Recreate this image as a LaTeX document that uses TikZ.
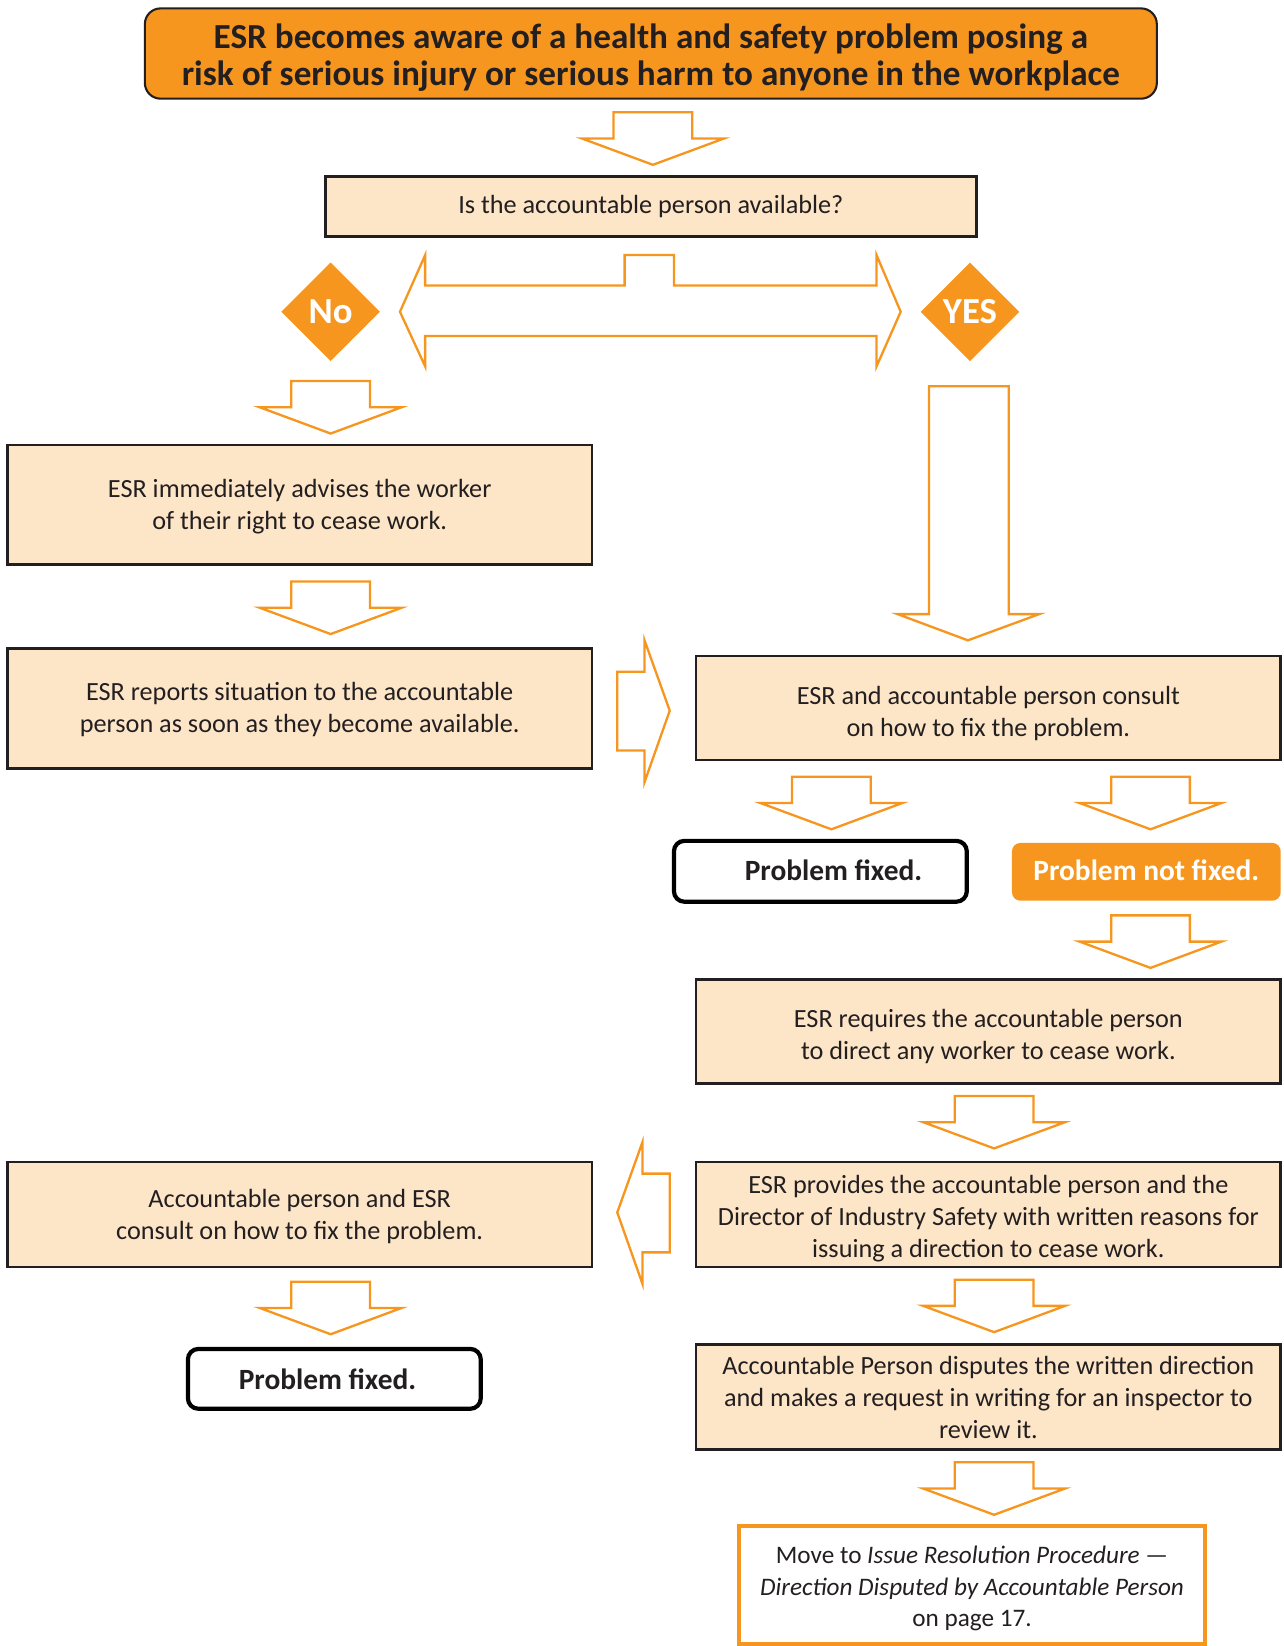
\documentclass[tikz,border=0pt]{standalone}
\usepackage{fontspec}
\setmainfont{Carlito}
\usetikzlibrary{shapes.geometric}
\definecolor{esrorange}{HTML}{F7961E}
\definecolor{peach}{HTML}{FDE5C8}
\definecolor{edgegray}{HTML}{231F20}
\tikzset{
  bodyfont/.style={font=\fontsize{25}{30.5}\selectfont},
  pbox/.style={draw=edgegray, line width=2.5pt, fill=peach, inner sep=0pt},
  ptext/.style={align=center, inner sep=0pt, bodyfont, text=edgegray},
  fixedbox/.style={draw=black, line width=4pt, rounded corners=10pt, fill=white, inner sep=0pt},
  fixedtext/.style={font=\fontsize{28}{32}\selectfont\bfseries, text=edgegray},
  decision/.style={diamond, fill=esrorange, inner sep=0pt, minimum width=94pt, minimum height=94pt, text=white, font=\fontsize{35}{38}\selectfont\bfseries},
  blockarrow/.style={draw=esrorange, line width=2.2pt, fill=white, line join=miter},
  darrow/.pic={\draw[blockarrow] (-37.5,-50) -- (37.5,-50) -- (37.5,-25) -- (67.5,-25) -- (0,0) -- (-67.5,-25) -- (-37.5,-25) -- cycle;}
}
\begin{document}
\begin{tikzpicture}[x=1pt,y=-1pt]
\useasboundingbox (0,0) rectangle (1223,1568);
% title
\node[draw=edgegray, line width=2pt, rounded corners=15pt, fill=esrorange, minimum width=964pt, minimum height=86pt, inner sep=0pt] (title) at (620,51) {};
\node[align=center, inner sep=0pt, text=edgegray, font=\fontsize{33.5}{35}\selectfont\bfseries] (titlet) at ([yshift=-4pt]title.center)
  {ESR becomes aware of a health and safety problem posing a\\risk of serious injury or serious harm to anyone in the workplace};
\pic at (622,157) {darrow};
\node[pbox, minimum width=620pt, minimum height=57pt] (q) at (620,196.5) {};
\node[ptext] (qt) at (q.center) {Is the accountable person available?};
% double arrow
\draw[blockarrow] (381,297) -- (405,243) -- (405,272) -- (595,272) -- (595,243) -- (642,243) -- (642,272) -- (835,272) -- (835,243) -- (858,297) -- (835,349) -- (835,320) -- (405,320) -- (405,349) -- cycle;
\node[decision] (no) at (315,297) {No};
\node[decision] (yes) at (924,297) {YES};
% left column
\pic at (315,413) {darrow};
\node[pbox, minimum width=557pt, minimum height=114pt] (l1) at (285.5,481) {};
\node[ptext] (l1t) at ([yshift=-2pt]l1.center) {ESR immediately advises the worker\\of their right to cease work.};
\pic at (315,604) {darrow};
\node[pbox, minimum width=557pt, minimum height=114pt] (l2) at (285.5,675) {};
\node[ptext] (l2t) at ([yshift=-1pt]l2.center) {ESR reports situation to the accountable\\person as soon as they become available.};
\draw[blockarrow] (588,640) -- (614,640) -- (614,610) -- (638,677) -- (614,745) -- (614,715) -- (588,715) -- cycle;
% long arrow from YES
\draw[blockarrow] (885,368) -- (961,368) -- (961,585) -- (990,585) -- (922,610) -- (855,585) -- (885,585) -- cycle;
\node[pbox, minimum width=557pt, minimum height=99pt] (r1) at (941.5,674.5) {};
\node[ptext] (r1t) at ([yshift=-5pt]r1.center) {ESR and accountable person consult\\on how to fix the problem.};
\pic at (792,790) {darrow};
\pic at (1096,790) {darrow};
\node[fixedbox, minimum width=279pt, minimum height=58pt] (pf1) at (781.5,830) {};
\node[fixedtext] (pf1t) at (794,829) {Problem fixed.};
\node[fill=esrorange, rounded corners=8pt, minimum width=256pt, minimum height=55pt, inner sep=0pt, fixedtext, text=white] (pnf) at (1092,830.5) {};
\node[fixedtext, text=white] (pnft) at ([yshift=1pt]pnf.center) {Problem not fixed.};
\pic at (1096,922) {darrow};
\node[pbox, minimum width=557pt, minimum height=99pt] (r2) at (941.5,982.5) {};
\node[ptext] (r2t) at ([yshift=-4.5pt]r2.center) {ESR requires the accountable person\\to direct any worker to cease work.};
\pic at (947,1094) {darrow};
\node[pbox, minimum width=557pt, minimum height=100pt] (r3) at (941.5,1157) {};
\node[ptext] (r3t) at ([yshift=-3.5pt]r3.center) {ESR provides the accountable person and the\\Director of Industry Safety with written reasons for\\issuing a direction to cease work.};
\draw[blockarrow] (638,1118) -- (612,1118) -- (612,1088) -- (588,1155) -- (612,1223) -- (612,1193) -- (638,1193) -- cycle;
\node[pbox, minimum width=557pt, minimum height=100pt] (l3) at (285.5,1157) {};
\node[ptext] (l3t) at ([yshift=-2pt]l3.center) {Accountable person and ESR\\consult on how to fix the problem.};
\pic at (315,1271) {darrow};
\node[fixedbox, minimum width=279pt, minimum height=57pt] (pf2) at (318.5,1313.5) {};
\node[fixedtext] (pf2t) at (312,1313.5) {Problem fixed.};
\pic at (947,1269) {darrow};
\node[pbox, minimum width=557pt, minimum height=100pt] (r4) at (941.5,1331) {};
\node[ptext] (r4t) at (r4.center) {Accountable Person disputes the written direction\\and makes a request in writing for an inspector to\\review it.};
\pic at (947,1443) {darrow};
\node[draw=esrorange, line width=4pt, fill=white, minimum width=444pt, minimum height=112pt, inner sep=0pt] (final) at (926,1510) {};
\node[align=center, inner sep=0pt, font=\fontsize{24}{30}\selectfont, text=edgegray] (finalt) at ([yshift=-3.5pt]final.center)
  {Move to \textit{Issue Resolution Procedure —}\\\textit{Direction Disputed by Accountable Person}\\on page 17.};
\end{tikzpicture}
\end{document}
